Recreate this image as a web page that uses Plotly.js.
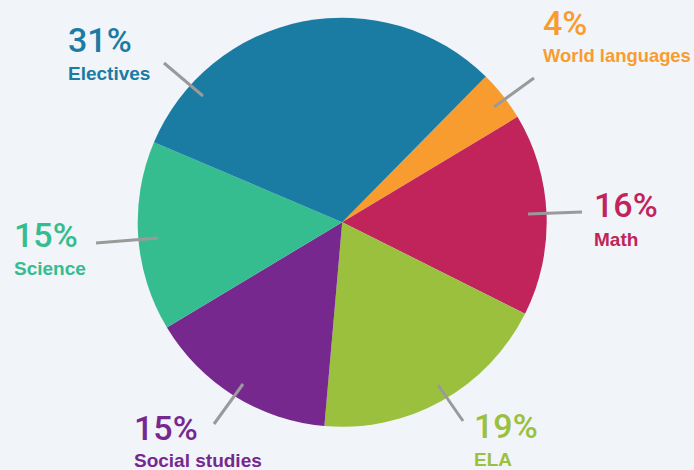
<!DOCTYPE html>
<html>
<head>
<meta charset="utf-8">
<script src="https://cdn.plot.ly/plotly-3.0.1.min.js"></script>
<style>html,body{margin:0;padding:0;background:#f1f4f8;}#chart{width:694px;height:470px;}</style>
</head>
<body>
<div id="chart"></div>
<script>
// Data
var categories = ["World languages", "Math", "ELA", "Social studies", "Science", "Electives"];
var shares = [4, 16, 19, 15, 15, 31];
var percentLabels = ["4%", "16%", "19%", "15%", "15%", "31%"];

// Styling / layout (not data)
var colors = ["#f99c30", "#c0245a", "#9bc03e", "#77288f", "#35bc8f", "#1a7ba3"];
var W = 694, H = 470;
// label anchor (left x, visual center y of percent, center y of name) in pixels
var labelPos = [
  [541, 23, 55],
  [592, 205, 239],
  [472, 426, 459],
  [132, 428, 460],
  [12, 235, 268],
  [66, 40, 73]
];
var nameSizes = [18.4, 19, 19, 19, 19, 19];
// leader lines in pixels [x0,y0,x1,y1]
var leaders = [
  [494, 107, 534, 78],
  [528, 214, 582, 212],
  [438, 385, 463, 421],
  [243, 384, 214, 424],
  [158, 238, 96, 243],
  [203, 96, 164, 63]
];

function px(x){return x / W;}
function py(y){return 1 - y / H;}

var annotations = [];
var shapes = [];
for (var i = 0; i < categories.length; i++) {
  var p = labelPos[i];
  annotations.push({
    xref: "paper", yref: "paper", x: px(p[0]), y: py(p[1]),
    xanchor: "left", yanchor: "middle", showarrow: false,
    text: percentLabels[i],
    font: {family: "Roboto, Liberation Sans, Arial, sans-serif", size: 34, weight: 500, color: colors[i]}
  });
  annotations.push({
    xref: "paper", yref: "paper", x: px(p[0]), y: py(p[2]),
    xanchor: "left", yanchor: "middle", showarrow: false,
    text: "<b>" + categories[i] + "</b>",
    font: {family: "Liberation Sans, Arial, sans-serif", size: nameSizes[i], color: colors[i]}
  });
  var l = leaders[i];
  shapes.push({
    type: "line", xref: "paper", yref: "paper",
    x0: px(l[0]), y0: py(l[1]), x1: px(l[2]), y1: py(l[3]),
    line: {color: "#9a9a9a", width: 3}, layer: "above"
  });
}

var trace = {
  type: "pie",
  labels: categories,
  values: shares,
  sort: false,
  direction: "clockwise",
  rotation: 44.6,
  textinfo: "none",
  hoverinfo: "label+percent",
  marker: {colors: colors, line: {width: 0}},
  domain: {x: [137.7 / W, 546.7 / W], y: [1 - 426.7 / H, 1 - 17.7 / H]},
  showlegend: false
};

var layout = {
  width: W, height: H,
  margin: {l: 0, r: 0, t: 0, b: 0},
  paper_bgcolor: "#f1f4f8",
  plot_bgcolor: "#f1f4f8",
  showlegend: false,
  annotations: annotations,
  shapes: shapes
};

Plotly.newPlot("chart", [trace], layout, {displayModeBar: false, staticPlot: true});
</script>
</body>
</html>
